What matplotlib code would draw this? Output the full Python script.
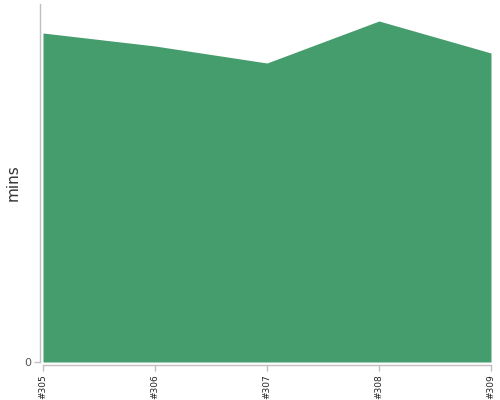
import matplotlib
matplotlib.use("Agg")
import matplotlib.pyplot as plt

builds = ["#305", "#306", "#307", "#308", "#309"]
mins = [329, 316, 299, 341, 309]
y_max = 358

fig = plt.figure(figsize=(5, 4), dpi=100)
ax = fig.add_axes([43/500, 38/400, 448/500, 358/400])
x = list(range(len(builds)))
ax.fill_between(x, 0, mins, color="#459c6d", linewidth=0)
ax.set_xlim(0, len(builds) - 1)
ax.set_ylim(0, y_max)
ax.set_xticks(x)
ax.set_xticklabels(builds)
ax.set_yticks([0])
ax.set_yticklabels(["0"])
for s in ["top", "right"]:
    ax.spines[s].set_visible(False)
ax.spines["left"].set_position(("outward", 2.5))
ax.spines["bottom"].set_position(("outward", 2.5))
for s in ["left", "bottom"]:
    ax.spines[s].set_color("#c0c0c0")
    ax.spines[s].set_linewidth(1)
ax.tick_params(axis="both", color="#c0c0c0", length=4, width=1, pad=2)
ax.tick_params(axis="x", labelrotation=90, labelsize=6.5, labelcolor="#222222")
ax.tick_params(axis="y", labelsize=8, labelcolor="#555555")
ax.set_ylabel("mins", fontsize=11, color="#333333")
ax.yaxis.set_label_coords(-0.049, 0.5)
fig.savefig("out.png", dpi=100)
